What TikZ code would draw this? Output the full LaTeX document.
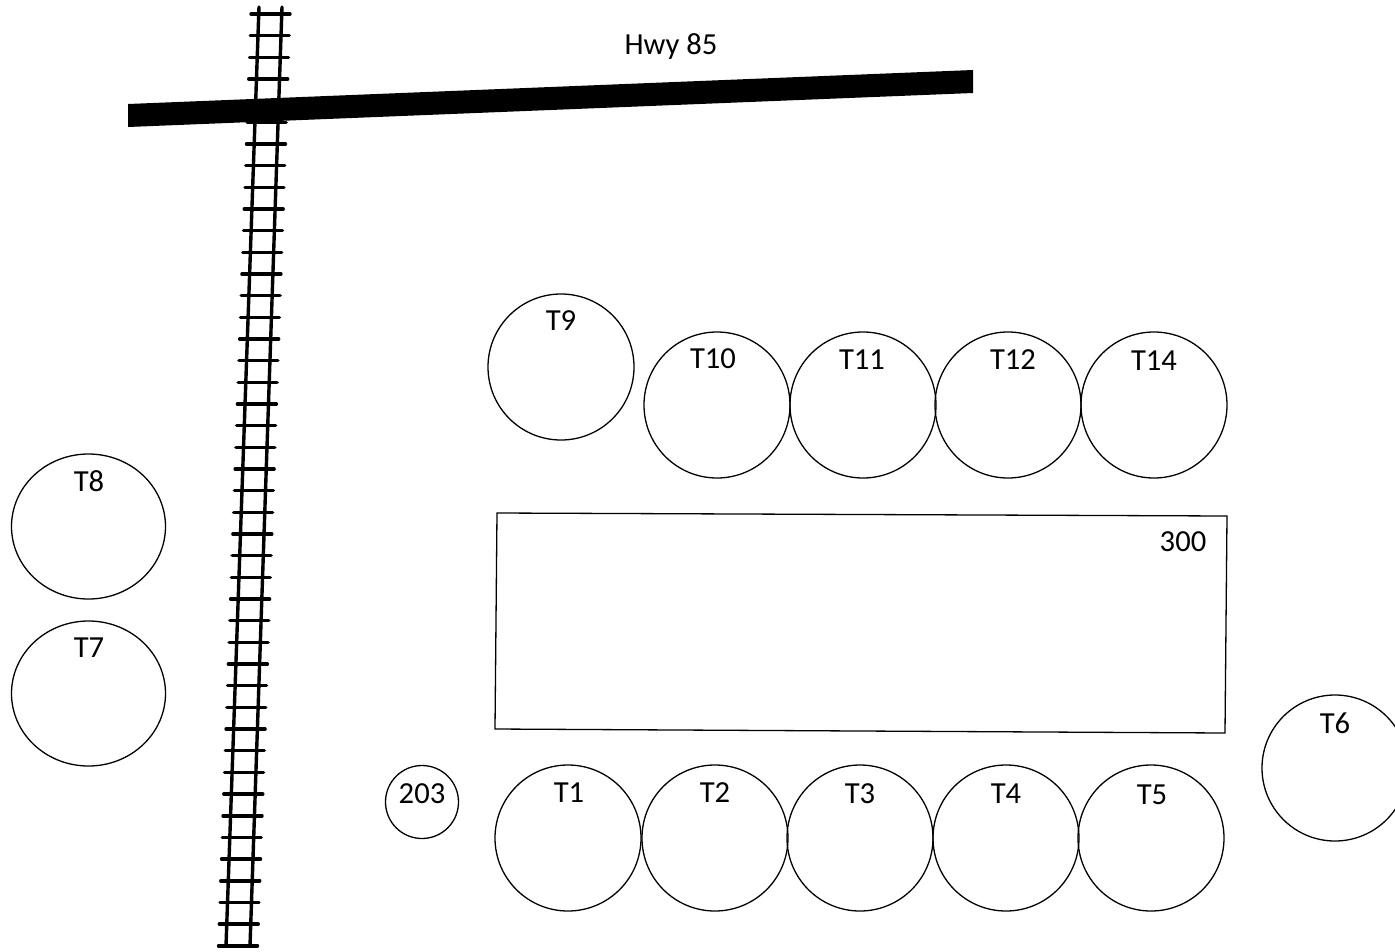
\documentclass[tikz,border=0pt]{standalone}
\usepackage{fontspec}
\setmainfont{Carlito}
\usetikzlibrary{shapes.geometric}
\tikzset{
  tank/.style={ellipse,draw=black,line width=1.3pt,inner sep=0pt,minimum width=146pt,minimum height=146pt},
  wide/.style={tank,minimum width=154pt,minimum height=145pt},
  small/.style={tank,minimum width=73pt,minimum height=73pt},
  lab/.style={inner sep=0pt,font=\fontsize{30.6}{32}\selectfont,text=black},
  rail/.style={line width=3.4pt,line cap=round,black},
  tie/.style={line width=3.4pt,line cap=round,black}
}
\begin{document}
\begin{tikzpicture}[x=1pt,y=-1pt]
\useasboundingbox (0,0) rectangle (1395,951);
\clip (0,0) rectangle (1395,951);
% railway
\foreach \k in {0,...,43}{
  \pgfmathsetmacro{\ty}{14+21.67*\k}
  \pgfmathsetmacro{\tx}{270.5-(\ty-14)*0.03487}
  \draw[tie] (\tx-19.5,\ty) -- (\tx+19.5,\ty);
}
\draw[rail] (259,7) -- (226,946);
\draw[rail] (282,7) -- (250,946);
% road
\fill[black] (128,104) -- (973,70) -- (973,93) -- (128,127) -- cycle;
\node[lab] (hwy) at (671,46.5) {Hwy 85};
% building
\draw[line width=1.3pt] (497,513) -- (1227,516) -- (1225,733) -- (495,729) -- cycle;
\node[lab] (b300) at (1183,542) {300};
% tanks
\node[tank] (t9) at (561,367) {};
\node[tank] (t10) at (717,405) {};
\node[tank] (t11) at (863,405) {};
\node[tank] (t12) at (1008,405) {};
\node[tank] (t14) at (1154,405) {};
\node[wide] (t8) at (88.5,526.5) {};
\node[wide] (t7) at (88.5,693.5) {};
\node[small] (n203) at (422,802) {};
\node[tank] (t1) at (568,838) {};
\node[tank] (t2) at (715,838) {};
\node[tank] (t3) at (860,838) {};
\node[tank] (t4) at (1006,838) {};
\node[tank] (t5) at (1151,838) {};
\node[tank] (t6) at (1335,768) {};
% labels
\node[lab] at (561,321) {T9};
\node[lab] at (713,359) {T10};
\node[lab] at (862,360) {T11};
\node[lab] at (1013,360) {T12};
\node[lab] at (1154,361) {T14};
\node[lab] at (89,481) {T8};
\node[lab] at (89,648) {T7};
\node[lab] at (422,794) {203};
\node[lab] at (569,793) {T1};
\node[lab] at (715,793) {T2};
\node[lab] at (860,794) {T3};
\node[lab] at (1006,794) {T4};
\node[lab] at (1152,795) {T5};
\node[lab] at (1335,723) {T6};
\end{tikzpicture}
\end{document}
